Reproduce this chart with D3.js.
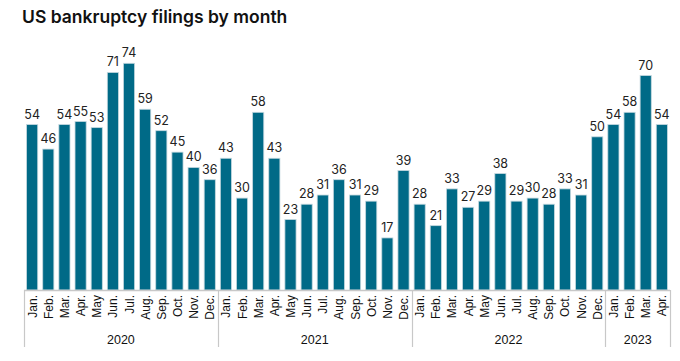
<!DOCTYPE html>
<html>
<head>
<meta charset="utf-8">
<script src="https://cdn.jsdelivr.net/npm/d3@7"></script>
<style>
  body { margin: 0; background: #fff; }
  .title { font-family: Inter, "Noto Sans", sans-serif; font-weight: 600; font-size: 17.5px; fill: #111; }
  .valueText { font-family: Inter, Roboto, sans-serif; font-size: 12.5px; fill: #222; }
  .monthText { font-family: "Liberation Sans", Arial, sans-serif; font-size: 12px; fill: #111; }
  .yearText { font-family: "Liberation Sans", Arial, sans-serif; font-size: 12.5px; fill: #111; }
</style>
</head>
<body>
<div id="chart"></div>
<script>

// months per year, and filings counts
let years = ["2020", "2021", "2022", "2023"];
let monthNames = ["Jan.", "Feb.", "Mar.", "Apr.", "May", "Jun.", "Jul.", "Aug.", "Sep.", "Oct.", "Nov.", "Dec."];
let filings2020 = [54, 46, 54, 55, 53, 71, 74, 59, 52, 45, 40, 36];
let filings2021 = [43, 30, 58, 43, 23, 28, 31, 36, 31, 29, 17, 39];
let filings2022 = [28, 21, 33, 27, 29, 38, 29, 30, 28, 33, 31, 50];
let filings2023 = [54, 58, 70, 54];

function barChart() {

	let width = 680, height = 361;
	let left = 24, right = 670, base = 290;

	let svg = d3.select("#chart")
		.append("svg")
		.attr("width", width)
		.attr("height", height);

	// flatten into one row per month
	let series = [filings2020, filings2021, filings2022, filings2023];
	let data = [];
	series.forEach(function (vals, i) {
		vals.forEach(function (v, j) {
			data.push({ key: years[i] + "-" + j, year: years[i], month: monthNames[j], value: v });
		});
	});

	let x = d3.scaleBand()
		.domain(data.map(d => d.key))
		.range([left, right])
		.paddingInner(0.31)
		.paddingOuter(0.16);

	let y = d3.scaleLinear()
		.domain([0, 74])
		.range([base, 63.3]);

	svg.append("text")
		.attr("class", "title")
		.attr("x", 22)
		.attr("y", 22.5)
		.text("US bankruptcy filings by month");

	// bars
	svg.selectAll(".bar")
		.data(data)
		.enter()
		.append("rect")
		.attr("class", "bar")
		.attr("x", d => x(d.key))
		.attr("width", x.bandwidth())
		.attr("y", d => y(d.value))
		.attr("height", d => base - y(d.value))
		.attr("fill", "#006a87")
		.attr("stroke", "#c4d8df")
		.attr("stroke-width", 0.8);

	// value labels
	svg.selectAll(".valueText")
		.data(data)
		.enter()
		.append("text")
		.attr("class", "valueText")
		.attr("x", d => x(d.key) + x.bandwidth() / 2)
		.attr("y", d => y(d.value) - 6)
		.attr("text-anchor", "middle")
		.text(d => d.value);

	// bottom axis line
	let axisColor = "#c8c8c8";
	svg.append("line")
		.attr("x1", left).attr("x2", right)
		.attr("y1", base + 0.5).attr("y2", base + 0.5)
		.attr("stroke", axisColor)
		.attr("stroke-width", 1.5);

	// month labels, rotated
	svg.selectAll(".monthText")
		.data(data)
		.enter()
		.append("text")
		.attr("class", "monthText")
		.attr("transform", d => "translate(" + (x(d.key) + x.bandwidth() / 2 + 4.5) + "," + (base + 5) + ") rotate(-90)")
		.attr("text-anchor", "end")
		.text(d => d.month);

	// year groups: separators and labels
	let bounds = [];
	let start = left;
	series.forEach(function (vals, i) {
		let end = start + vals.length * (right - left) / data.length;
		bounds.push({ year: years[i], x0: start, x1: end });
		start = end;
	});

	let edges = [left].concat(bounds.map(b => b.x1));
	svg.selectAll(".sep")
		.data(edges)
		.enter()
		.append("line")
		.attr("x1", d => Math.round(d) + 0.5)
		.attr("x2", d => Math.round(d) + 0.5)
		.attr("y1", base)
		.attr("y2", 347)
		.attr("stroke", axisColor)
		.attr("stroke-width", 1.2);

	svg.selectAll(".yearText")
		.data(bounds)
		.enter()
		.append("text")
		.attr("class", "yearText")
		.attr("x", d => (d.x0 + d.x1) / 2)
		.attr("y", 344)
		.attr("text-anchor", "middle")
		.text(d => d.year);
}

barChart();

</script>
</body>
</html>
